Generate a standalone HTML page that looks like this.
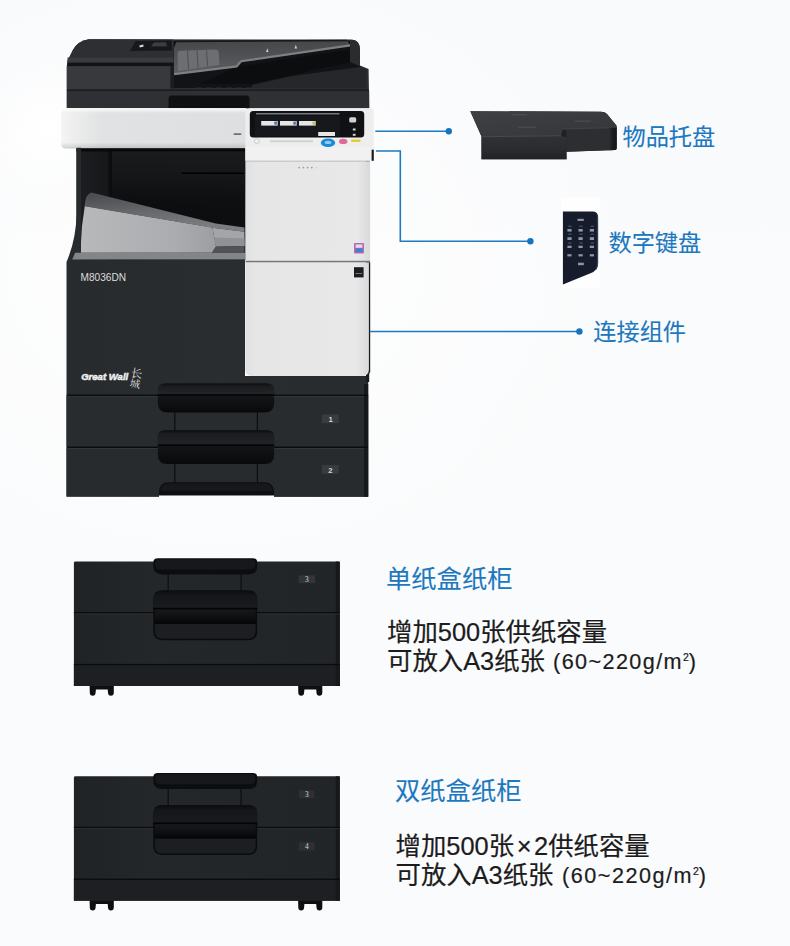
<!DOCTYPE html>
<html lang="zh-CN">
<head>
<meta charset="utf-8">
<title>M8036DN 选配件</title>
<style>
html,body{margin:0;padding:0;}
body{width:790px;height:946px;overflow:hidden;position:relative;background:#fafbfc;
  font-family:"Liberation Sans","Noto Sans CJK SC",sans-serif;}
#stage{position:absolute;left:0;top:0;width:790px;height:946px;overflow:hidden;
  background:
    radial-gradient(ellipse 60px 70px at 45px 128px,#ffffff 0%,rgba(255,255,255,0) 100%),
    radial-gradient(ellipse 420px 330px at 215px 270px,#fefefe 0%,rgba(254,254,254,0) 100%),
    linear-gradient(180deg,#f9fafc 0%,#fafbfc 50%,#fafbfd 100%);}
svg#art{position:absolute;left:0;top:0;}
.lbl{position:absolute;white-space:nowrap;color:#1c78bf;font-size:23.2px;line-height:30px;-webkit-text-stroke:0.1px #1c78bf;}
.ttl{position:absolute;white-space:nowrap;color:#1c78bf;font-size:25.3px;line-height:32px;-webkit-text-stroke:0.1px #1c78bf;}
.desc{position:absolute;white-space:nowrap;color:#1c1c1c;font-size:25.4px;line-height:29.6px;-webkit-text-stroke:0.2px #1c1c1c;}
.desc .sm{font-size:21.6px;letter-spacing:1.3px;margin-left:0.5px;position:relative;top:-1.5px;}
.desc .x{display:inline-block;width:20px;text-align:center;}
.desc .sm i{font-style:normal;font-size:10.5px;position:relative;top:-8px;letter-spacing:0;}
</style>
</head>
<body>
<div id="stage">
<svg id="art" width="790" height="946" viewBox="0 0 790 946">
<defs>
  <linearGradient id="gBody" x1="0" y1="0" x2="1" y2="0">
    <stop offset="0" stop-color="#282b2e"/><stop offset="0.5" stop-color="#2a2d30"/><stop offset="1" stop-color="#292c2f"/>
  </linearGradient>
  <linearGradient id="gBand" x1="0" y1="0" x2="1" y2="0">
    <stop offset="0" stop-color="#f4f4f4"/><stop offset="0.06" stop-color="#eeeeef"/><stop offset="0.22" stop-color="#e1e2e3"/><stop offset="1" stop-color="#dedfe1"/>
  </linearGradient>
  <linearGradient id="gBandV" x1="0" y1="0" x2="0" y2="1">
    <stop offset="0" stop-color="#ffffff" stop-opacity="0.9"/><stop offset="0.12" stop-color="#ffffff" stop-opacity="0"/>
    <stop offset="0.85" stop-color="#000000" stop-opacity="0"/><stop offset="1" stop-color="#000000" stop-opacity="0.14"/>
  </linearGradient>
  <linearGradient id="gPanel" x1="0" y1="0" x2="1" y2="0">
    <stop offset="0" stop-color="#dfe0e1"/><stop offset="0.08" stop-color="#e6e6e7"/><stop offset="0.9" stop-color="#e8e8e9"/><stop offset="1" stop-color="#d8d9da"/>
  </linearGradient>
  <linearGradient id="gLip" x1="0" y1="0" x2="0" y2="1">
    <stop offset="0" stop-color="#0c0d0f"/><stop offset="0.25" stop-color="#1b1c1f"/><stop offset="1" stop-color="#222427"/>
  </linearGradient>
  <linearGradient id="gRecess" x1="0" y1="0" x2="0" y2="1">
    <stop offset="0" stop-color="#1a1b1e"/><stop offset="0.6" stop-color="#111214"/><stop offset="1" stop-color="#08090a"/>
  </linearGradient>
  <linearGradient id="gTrayOut" x1="0" y1="0" x2="1" y2="0">
    <stop offset="0" stop-color="#b7b9bb"/><stop offset="0.7" stop-color="#aaacaf"/><stop offset="1" stop-color="#9c9ea1"/>
  </linearGradient>
  <linearGradient id="gTrayBand" x1="0" y1="0" x2="0.35" y2="1">
    <stop offset="0" stop-color="#47494c"/><stop offset="0.55" stop-color="#66686b"/><stop offset="1" stop-color="#7b7d80"/>
  </linearGradient>
  <linearGradient id="gCav" x1="0" y1="0" x2="1" y2="0">
    <stop offset="0" stop-color="#1d1e21"/><stop offset="0.18" stop-color="#17181a"/><stop offset="0.2" stop-color="#0b0c0e"/><stop offset="1" stop-color="#0d0e10"/>
  </linearGradient>
  <linearGradient id="gCavHi" x1="0" y1="0" x2="0" y2="1">
    <stop offset="0" stop-color="#1b1d20" stop-opacity="0.9"/><stop offset="0.45" stop-color="#17191b" stop-opacity="0.7"/><stop offset="1" stop-color="#101113" stop-opacity="0"/>
  </linearGradient>
  <linearGradient id="gFeed" x1="0" y1="0" x2="0" y2="1">
    <stop offset="0" stop-color="#45474a"/><stop offset="1" stop-color="#5b5d60"/>
  </linearGradient>
  <linearGradient id="gCab" x1="0" y1="0" x2="1" y2="0">
    <stop offset="0" stop-color="#202326"/><stop offset="0.3" stop-color="#24272a"/><stop offset="1" stop-color="#222528"/>
  </linearGradient>
  <linearGradient id="gLipC" x1="0" y1="0" x2="0" y2="1">
    <stop offset="0" stop-color="#0b0c0e"/><stop offset="0.3" stop-color="#15161a"/><stop offset="1" stop-color="#1a1b1e"/>
  </linearGradient>
  <linearGradient id="gMidC" x1="0" y1="0" x2="0" y2="1">
    <stop offset="0" stop-color="#17181b"/><stop offset="0.6" stop-color="#0e0f11"/><stop offset="1" stop-color="#050506"/>
  </linearGradient>
  <linearGradient id="gTrayFront" x1="0" y1="0" x2="0" y2="1">
    <stop offset="0" stop-color="#303235"/><stop offset="0.6" stop-color="#292b2e"/><stop offset="1" stop-color="#202225"/>
  </linearGradient>
  <linearGradient id="gTrayEnd" x1="0" y1="0" x2="1" y2="0">
    <stop offset="0" stop-color="#2c2e31"/><stop offset="0.5" stop-color="#1a1b1e"/><stop offset="1" stop-color="#151619"/>
  </linearGradient>
  <linearGradient id="gTrayTop" x1="0" y1="0" x2="1" y2="1">
    <stop offset="0" stop-color="#3e4044"/><stop offset="1" stop-color="#34363a"/>
  </linearGradient>
</defs>

<!-- ========== PRINTER ========== -->
<g id="printer">
  <!-- ADF silhouette -->
  <path d="M66.8 108 L66.8 66 L67.5 61 L72.9 50.1 Q77.5 41 89 39.3 L351 39.6 Q360 39.8 360 50 L360 65.5 L368.6 69 L369.2 108 Z" fill="#2b2d30"/>
  <!-- feed recess (dark) -->
  <path d="M173.5 41 L350 41 L350 62 L360 66 L360 88 L173.5 88 Z" fill="#121316"/>
  <!-- slope under feed tray -->
  <path d="M252 85 L292 76 L360 67 L366 69.5 L366 88 L252 88 Z" fill="#25272a"/>
  <path d="M236 67 L300 57 L350 50 L350 62 L292 75 L250 84 L200 84 Z" fill="#0c0d0f"/>
  <!-- feed tray -->
  <path d="M176.5 41.5 L347 40.6 L350.2 45.3 L241 61.2 L236.6 66.4 L174 74.2 L174 48 Z" fill="url(#gFeed)"/>
  <path d="M350.2 45.3 L241 61.2 L236.6 66.4 L174 74.2" fill="none" stroke="#7d7f83" stroke-width="2.2"/>
  <path d="M176.5 41.5 L347 40.6" stroke="#17181a" stroke-width="1.5"/>
  <!-- paper guide -->
  <path d="M177.6 53.6 Q177.6 51 180.6 50.8 L214.6 49.4 Q218.4 49.2 218.7 52.6 L219.6 65 L177.8 71.2 Z" fill="#6c6e71"/>
  <path d="M187.5 50.6 L188.6 69 M197 50.2 L198.1 67.6 M206.5 49.8 L207.6 66.4" stroke="#505255" stroke-width="1.1"/>
  <path d="M266 52 L267.3 48.2 L268.6 52 Z M294.5 48.6 L295.8 44.8 L297.1 48.6 Z" fill="#c9cacb"/>
  <!-- top cover left -->
  <path d="M67.3 62 L67.5 61 L72.9 50.1 Q77.5 41 89 39.3 L173.5 39.6 L173.5 62 Z" fill="#2d2f32"/>
  <rect x="67.5" y="57.5" width="106" height="5.2" fill="#393b3e"/>
  <rect x="67.5" y="62.7" width="106" height="3.4" fill="#121315"/>
  <!-- cover control widget -->
  <path d="M130 51 L135.5 41 L171.5 40.6 L172 50.5 Z" fill="#17181b"/>
  <path d="M151 46.5 L154 42.5 L166 42.3 L167 46.3 Z" fill="#3c3e41"/>
  <rect x="139.5" y="45" width="4" height="2" fill="#d9dadb" transform="rotate(-14 141.5 46)"/>
  <!-- lower left sections -->
  <rect x="66.8" y="66.2" width="103.7" height="23.4" fill="#37393c"/>
  <rect x="66.8" y="89.6" width="302.2" height="1.2" fill="#141517"/>
  <rect x="66.8" y="90.8" width="302.4" height="17.4" fill="#2e3033"/>
  <rect x="170.5" y="66.2" width="3" height="22" fill="#1b1c1f"/>
  <!-- rollers hint -->
  <path d="M196 88.2 h6 m4 0 h6 m4 0 h6 m4 0 h6 m4 0 h6 m4 0 h6" stroke="#2d2f32" stroke-width="1.6"/>
  <!-- right housing -->
  <path d="M350 41 L352 39.7 Q360 40 360 50 L360 66 L350 61.5 Z" fill="#2a2c2f"/>
  <!-- black rounded slot -->
  <path d="M168.5 108.2 L168.5 99 Q168.5 95.6 172 95.6 L246 95.6 Q249.5 95.6 249.5 99 L249.5 108.2 Z" fill="#0f1012"/>

  <!-- white band -->
  <path d="M61.2 108.3 L246 108.3 L246 148.4 L65.5 148.4 Q61.2 148.4 61.2 144 Z" fill="url(#gBand)"/>
  <path d="M61.2 108.3 L246 108.3 L246 148.4 L65.5 148.4 Q61.2 148.4 61.2 144 Z" fill="url(#gBandV)"/>
  <rect x="233.5" y="133.3" width="8" height="1.6" rx="0.8" fill="#6d6f72"/>

  <!-- cavity -->
  <rect x="76.4" y="148.4" width="169.2" height="111.6" fill="url(#gCav)"/>
  <rect x="76.4" y="148.4" width="169.2" height="3" fill="#08090a"/>
  <rect x="112" y="151.4" width="133.6" height="62" fill="url(#gCavHi)"/>
  <rect x="181.5" y="172.6" width="62.5" height="1.4" fill="#000"/>
  <!-- output tray -->
  <path d="M84.8 206 L212.4 227.5 L216 246.4 L212 252.8 L80.3 252.8 L82 226 Z" fill="url(#gTrayOut)"/>
  <path d="M91.6 192.4 L215.8 223.6 L244.5 227.6 L244.5 231.8 L212.4 227.7 L84.6 206.2 Q85.4 193.6 91.6 192.4 Z" fill="url(#gTrayBand)"/>
  <path d="M212.4 227.7 L244.5 231.8 L244.5 246 L216 246.6 Z" fill="#a3a5a8"/>
  <path d="M214.2 237.5 L244.5 238.5 L244.5 246 L216 246.6 Z" fill="#8f9194"/>
  <path d="M216 246.6 L244.5 246 L244.5 252.8 L212 252.8 Z" fill="#505255"/>

  <!-- lower body -->
  <path d="M76.6 147.8 L76.6 214 Q76 240 66.5 262 L66.5 496.6 L368.2 496.8 L368.2 376 L245 376 L245 260 L81 260 L81 147.8 Z" fill="url(#gBody)"/>
  <path d="M75.2 252.8 L245 252.8 L245 259.6 L72.2 259.6 Z" fill="#838588"/>
  <!-- right dark edge behind panels -->
  <rect x="366" y="150" width="3.2" height="232" fill="#1b1c1f"/>

  <!-- model text / logo -->
  <text x="80.5" y="281.3" font-family="Liberation Sans, sans-serif" font-size="10.2" fill="#dcddde" textLength="45.6" lengthAdjust="spacingAndGlyphs">M8036DN</text>
  <text x="81.2" y="379.6" font-family="Liberation Sans, sans-serif" font-size="9.6" font-weight="bold" font-style="italic" fill="#eeeff0" stroke="#eeeff0" stroke-width="0.5" textLength="47" lengthAdjust="spacingAndGlyphs">Great Wall</text>
  <text font-family="Noto Serif CJK SC, Noto Sans CJK SC, serif" fill="#dcddde" transform="rotate(9 135 378)"><tspan x="130" y="377.2" font-size="11.5">长</tspan><tspan x="130.8" y="387.6" font-size="10.5">城</tspan></text>

  <rect x="66.5" y="396" width="301.7" height="50.5" fill="#292c2f"/>
  <rect x="66.5" y="448" width="301.7" height="48.7" fill="#282b2e"/>
  <rect x="364" y="384" width="4.2" height="112.7" fill="#17181b"/>
  <!-- tray separators -->
  <rect x="66.8" y="394.6" width="301.4" height="1.5" fill="#0b0c0e"/>
  <rect x="66.8" y="396.1" width="297.2" height="0.9" fill="#35373a"/>
  <rect x="66.8" y="446.5" width="301.4" height="1.5" fill="#0b0c0e"/>
  <rect x="66.8" y="448" width="297.2" height="0.9" fill="#35373a"/>
  <!-- inner panels -->
  <rect x="174.2" y="410" width="1.2" height="24" fill="#0c0d0f"/>
  <rect x="256.8" y="410" width="1.2" height="24" fill="#0c0d0f"/>
  <rect x="174.2" y="460" width="1.2" height="25" fill="#0c0d0f"/>
  <rect x="256.8" y="460" width="1.2" height="25" fill="#0c0d0f"/>
  <!-- handle 1 -->
  <path d="M157.8 390.5 Q157.8 383.5 165 383.5 L267 383.5 Q274.2 383.5 274.2 390.5 L274.2 403 Q274.2 412.6 264.5 412.6 L167.5 412.6 Q157.8 412.6 157.8 403 Z" fill="url(#gRecess)"/>
  <path d="M157.8 390.5 Q157.8 383.5 165 383.5 L267 383.5 Q274.2 383.5 274.2 390.5 L274.2 394.4 L157.8 394.4 Z" fill="url(#gLip)"/>
  <rect x="157.8" y="394.2" width="116.4" height="1.6" fill="#050506"/>
  <!-- handle 2 -->
  <path d="M157.8 437.2 Q157.8 430.2 165 430.2 L267 430.2 Q274.2 430.2 274.2 437.2 L274.2 454.4 Q274.2 464 264.5 464 L167.5 464 Q157.8 464 157.8 454.4 Z" fill="url(#gRecess)"/>
  <path d="M157.8 437.2 Q157.8 430.2 165 430.2 L267 430.2 Q274.2 430.2 274.2 437.2 L274.2 444.6 L157.8 444.6 Z" fill="url(#gLip)"/>
  <rect x="157.8" y="444.4" width="116.4" height="1.6" fill="#050506"/>
  <!-- handle 3 -->
  <path d="M159 495.6 L159 492 Q159 482.3 169 482.3 L264 482.3 Q274 482.3 274 492 L274 495.8 Z" fill="#0e0f11"/>
  <path d="M159 495.4 L274 495.6 L274 497 L159 497 Z" fill="#fafbfc"/>
  <path d="M161 491 Q161 483.6 169 483.6 L264 483.6 Q272 483.6 272 491 Z" fill="#17181b"/>
  <!-- labels -->
  <rect x="321.8" y="414.4" width="17" height="8.8" fill="#393b3e"/>
  <text x="330.6" y="421.7" text-anchor="middle" font-family="Liberation Sans, sans-serif" font-size="7.8" font-weight="bold" fill="#d2d3d4">1</text>
  <rect x="321.8" y="465" width="17" height="8.8" fill="#393b3e"/>
  <text x="330.3" y="472.9" text-anchor="middle" font-family="Liberation Sans, sans-serif" font-size="7.8" font-weight="bold" fill="#d2d3d4">2</text>

  <!-- control panel -->
  <path d="M245.4 113 Q245.4 108.5 250 108.5 L373.6 108.5 L373.6 160.8 L245.4 160.8 Z" fill="#eeeeef"/>
  <rect x="245.4" y="147" width="128.2" height="13.8" fill="#f1f1f2"/>
  <rect x="371.6" y="149.7" width="2.2" height="11.1" fill="#1c1d20"/>
  <rect x="249.8" y="111" width="114.4" height="26.5" rx="3.5" fill="#101114"/>
  <rect x="256" y="113" width="83.5" height="1.5" fill="#77797c"/>
  <rect x="255" y="116" width="85" height="20" fill="#17181b"/>
  <rect x="261.2" y="121" width="16.5" height="4.6" fill="#e4e6e8"/>
  <rect x="280" y="121" width="16.7" height="4.6" fill="#e4e6e8"/>
  <rect x="299" y="121" width="16.7" height="4.6" fill="#e4e6e8"/>
  <rect x="312.5" y="121.6" width="2.6" height="3" fill="#cdbb44"/>
  <rect x="274.3" y="121.6" width="2.6" height="3" fill="#4f6f9f"/>
  <rect x="293.3" y="121.6" width="2.6" height="3" fill="#4f6f9f"/>
  <rect x="318.2" y="132" width="16.8" height="4" fill="#e4e6e8"/>
  <rect x="349.2" y="117.2" width="7" height="5.4" rx="1.5" fill="#cfd0d2"/>
  <rect x="352.8" y="128.5" width="2.8" height="2" fill="#cfd0d2"/>
  <rect x="352.8" y="133.8" width="2.8" height="2" fill="#cfd0d2"/>
  <circle cx="256.8" cy="141" r="2.6" fill="none" stroke="#c4c5c7" stroke-width="0.8"/>
  <rect x="270" y="140.3" width="43" height="1.9" fill="#cfd0d2"/>
  <ellipse cx="328" cy="142.8" rx="7.2" ry="4.3" fill="#1b8ad6"/>
  <ellipse cx="328" cy="142.4" rx="3.4" ry="1.6" fill="#8ecbf2"/>
  <ellipse cx="343.2" cy="141.4" rx="4.2" ry="2.6" fill="#e2689a"/>
  <rect x="351.2" y="139.5" width="9.2" height="2.4" fill="#e5c928"/>

  <!-- front panels -->
  <rect x="245.5" y="161.6" width="124.6" height="99.6" fill="url(#gPanel)"/>
  <rect x="245.5" y="260.8" width="124.6" height="1.8" fill="#737578"/>
  <path d="M366 262.6 L370.2 262.6 L370.2 372 L366 378 Z" fill="#1b1c1f"/>
  <path d="M245.3 262.6 L368.9 262.6 L368.9 369.5 Q368.9 376 362.4 376 L251.8 376 Q245.3 376 245.3 369.5 Z" fill="url(#gPanel)"/>
  <rect x="245.5" y="160.6" width="124.6" height="1.2" fill="#c2c3c5"/>
  <g fill="#9a9c9f"><circle cx="299.2" cy="167.6" r="0.9"/><circle cx="303.4" cy="167.6" r="0.9"/><circle cx="307.6" cy="167.6" r="0.9"/><circle cx="311.8" cy="167.6" r="0.9"/></g>
  <circle cx="316.6" cy="167.6" r="0.9" fill="#d0d1d3"/>
  <!-- stickers -->
  <rect x="354" y="243" width="10" height="10.4" rx="1" fill="#b06ab0"/>
  <rect x="355.6" y="244.4" width="6.8" height="3.4" fill="#e9d7ee"/>
  <rect x="355.6" y="248.4" width="6.8" height="3.6" fill="#3f7fd0"/>
  <rect x="354" y="267.2" width="9.6" height="10.2" fill="#1c1d1f"/>
  <rect x="355.5" y="273" width="6.6" height="0.8" fill="#8a8c8f"/>
</g>

<!-- ========== CONNECTORS ========== -->
<g id="connectors" fill="none" stroke="#1a7bc3" stroke-width="1.6">
  <path d="M375.3 131.2 L448.8 131.2"/>
  <path d="M375.9 151 L400.3 151 L400.3 241.2 L530.4 241.2"/>
  <path d="M369.9 331.5 L579.4 331.5"/>
</g>
<g fill="#1674bf">
  <circle cx="448.8" cy="131.2" r="3.2"/>
  <circle cx="530.4" cy="241.2" r="3.2"/>
  <circle cx="579.4" cy="331.5" r="3.2"/>
</g>

<!-- ========== ACCESSORY TRAY ========== -->
<g id="acc-tray">
  <path d="M470.3 111.2 L601 111.8 Q605 111.8 607 114 L616.6 125.5 L616.6 148 Q616.6 149.8 615 150 L566.5 151.8 L566.5 159.3 L481.5 159.3 L481.5 136.6 Z" fill="#25272a"/>
  <!-- top face -->
  <path d="M470.3 111.2 L601 111.8 Q605 111.8 607 114 L616.6 126.5 L616.6 127.6 L563 129 L561.3 135.6 L481.5 136.6 Z" fill="url(#gTrayTop)"/>
  <!-- front face left -->
  <path d="M481.5 136.6 L561.3 135.6 L566.5 137.5 L566.5 159.3 L481.5 159.3 Z" fill="url(#gTrayFront)"/>
  <path d="M481.5 136.7 L561.3 135.7" stroke="#4b4d50" stroke-width="0.9"/>
  <!-- notch inner wall -->
  <path d="M563 129 L566.5 130.2 L566.5 137.5 L561.3 135.6 Z" fill="#1f2124"/>
  <!-- right front face -->
  <path d="M566.5 130.2 L563 129 L616.6 127.6 L616.6 148 Q616.6 149.8 615 150 L566.5 151.8 Z" fill="#2c2e31"/>
  <path d="M563 129 L616.6 127.6" stroke="#47494c" stroke-width="0.8"/>
  <path d="M609 127.8 L616.6 127.6 L616.6 148 Q616.6 149.8 615 150 L609 150.3 Z" fill="url(#gTrayEnd)"/>
  <rect x="512" y="114.2" width="15" height="1" fill="#505256"/>
  <rect x="518" y="126.6" width="18" height="1" fill="#505256"/>
  <rect x="575" y="120.6" width="16" height="1" fill="#505256"/>
</g>

<!-- ========== KEYPAD ========== -->
<g id="acc-keypad">
  <rect x="560.8" y="197.5" width="39.6" height="90.5" fill="#ffffff" opacity="0.8"/>
  <path d="M562.9 211.4 L592.5 211.4 Q598.1 211.4 598.1 217 L598.1 263 Q598.1 270.5 590.5 273.2 L562.9 284.4 Z" fill="#161c2b"/>
  <path d="M596.9 216 L598.1 217 L598.1 263 Q598.1 268 595.5 270.6 Q596.9 268 596.9 263 Z" fill="#39414f"/>
  <g fill="#8e96a6">
    <rect x="577.5" y="218.8" width="6.3" height="2.1"/>
    <rect x="567.4" y="229" width="4.2" height="2.6"/><rect x="578.5" y="229" width="4.2" height="2.6"/><rect x="589.8" y="229" width="4.2" height="2.6"/><rect x="567.4" y="237.2" width="4.2" height="2.8"/><rect x="578.5" y="237.2" width="4.2" height="2.8"/><rect x="589.8" y="237.2" width="4.2" height="2.8"/><rect x="567.4" y="245.7" width="4.2" height="2.3"/><rect x="578.5" y="245.7" width="4.2" height="2.3"/><rect x="589.8" y="245.7" width="4.2" height="2.3"/><rect x="567.4" y="254.2" width="4.2" height="2.2"/><rect x="578.5" y="254.2" width="4.2" height="2.2"/><rect x="589.8" y="254.2" width="4.2" height="2.2"/>
    <rect x="578" y="262.7" width="5.8" height="2.5"/>
  </g>
  <g fill="#4e5667"><rect x="568.1999999999999" y="225.7" width="3.4" height="1.1"/><rect x="579.3" y="225.7" width="3.4" height="1.1"/><rect x="590.5999999999999" y="225.7" width="3.4" height="1.1"/><rect x="568.1999999999999" y="233.6" width="3.4" height="1.1"/><rect x="579.3" y="233.6" width="3.4" height="1.1"/><rect x="590.5999999999999" y="233.6" width="3.4" height="1.1"/><rect x="568.1999999999999" y="242.5" width="3.4" height="1.1"/><rect x="579.3" y="242.5" width="3.4" height="1.1"/><rect x="590.5999999999999" y="242.5" width="3.4" height="1.1"/></g>
</g>

<!-- ========== CABINETS ========== -->
<g id="cab1">
  <!-- feet -->
  <path d="M89.6 685 h24.2 v7.8 q0 3 -3 3 q-2.6 0 -2.8 -3 l-0.3 -3.4 h-11.8 l-0.3 3.4 q-0.2 3 -2.8 3 q-3 0 -3 -3 Z" fill="#0e0f11"/>
  <path d="M298.1 685 h24.2 v7.8 q0 3 -3 3 q-2.6 0 -2.8 -3 l-0.3 -3.4 h-11.8 l-0.3 3.4 q-0.2 3 -2.8 3 q-3 0 -3 -3 Z" fill="#0e0f11"/>
  <!-- body -->
  <path d="M73.9 563 Q73.9 561.6 75.3 561.6 L338.4 561.6 Q339.8 561.6 339.8 563 L339.8 686 L73.9 686 Z" fill="url(#gCab)"/>
  <rect x="73.9" y="664.6" width="265.9" height="21.4" fill="#1d1f22"/>
  <rect x="335.8" y="561.6" width="4" height="124.4" fill="#17181b"/>
  <rect x="73.9" y="612.1" width="265.9" height="1.4" fill="#0a0b0c"/>
  <rect x="73.9" y="613.5" width="265.9" height="0.9" fill="#2f3134"/>
  <rect x="73.9" y="663.9" width="265.9" height="1.3" fill="#0a0b0c"/>
  <!-- inner verticals -->
  <rect x="167.6" y="572" width="1.1" height="20" fill="#0b0c0d"/>
  <rect x="240.5" y="572" width="1.1" height="20" fill="#0b0c0d"/>
  <!-- top handle -->
  <path d="M153.3 562.5 Q153.3 558.2 158 558.2 L252.5 558.2 Q257.2 558.2 257.2 562.5 L257.2 566 Q257.2 574.4 248.5 574.4 L162 574.4 Q153.3 574.4 153.3 566 Z" fill="#0c0d0f"/>
  <path d="M155.2 563.2 Q155.2 559.6 159 559.6 L251.5 559.6 Q255.3 559.6 255.3 563.2 L255.3 564.5 Q255.3 569.6 249.5 569.6 L161 569.6 Q155.2 569.6 155.2 564.5 Z" fill="#17181b"/>
  <!-- recess -->
  <path d="M153.3 599 Q153.3 590.6 162 590.6 L248.5 590.6 Q257.2 590.6 257.2 599 L257.2 631 Q257.2 640.2 248 640.2 L162.5 640.2 Q153.3 640.2 153.3 631 Z" fill="#0a0b0c"/>
  <path d="M153.3 599 Q153.3 590.6 162 590.6 L248.5 590.6 Q257.2 590.6 257.2 599 L257.2 608 L153.3 608 Z" fill="url(#gLipC)"/>
  <rect x="153.3" y="607.8" width="103.9" height="1.7" fill="#040405"/>
  <rect x="154.8" y="609.5" width="100.9" height="14" fill="url(#gMidC)"/>
  <path d="M154.8 624 L255.7 624 L255.7 631 Q255.7 638.8 248 638.8 L162.5 638.8 Q154.8 638.8 154.8 631 Z" fill="#1c1e21"/>
</g>
<rect x="298.8" y="575.3" width="16.2" height="7.8" fill="#333538"/>
<text x="306.9" y="582" text-anchor="middle" font-family="Liberation Serif, serif" font-size="7.4" fill="#d8d9da">3</text>

<g id="cab2" transform="translate(0 214.7)">
  <!-- feet -->
  <path d="M89.6 685 h24.2 v7.8 q0 3 -3 3 q-2.6 0 -2.8 -3 l-0.3 -3.4 h-11.8 l-0.3 3.4 q-0.2 3 -2.8 3 q-3 0 -3 -3 Z" fill="#0e0f11"/>
  <path d="M298.1 685 h24.2 v7.8 q0 3 -3 3 q-2.6 0 -2.8 -3 l-0.3 -3.4 h-11.8 l-0.3 3.4 q-0.2 3 -2.8 3 q-3 0 -3 -3 Z" fill="#0e0f11"/>
  <!-- body -->
  <path d="M73.9 563 Q73.9 561.6 75.3 561.6 L338.4 561.6 Q339.8 561.6 339.8 563 L339.8 686 L73.9 686 Z" fill="url(#gCab)"/>
  <rect x="73.9" y="664.6" width="265.9" height="21.4" fill="#1d1f22"/>
  <rect x="335.8" y="561.6" width="4" height="124.4" fill="#17181b"/>
  <rect x="73.9" y="612.1" width="265.9" height="1.4" fill="#0a0b0c"/>
  <rect x="73.9" y="613.5" width="265.9" height="0.9" fill="#2f3134"/>
  <rect x="73.9" y="663.9" width="265.9" height="1.3" fill="#0a0b0c"/>
  <!-- inner verticals -->
  <rect x="167.6" y="572" width="1.1" height="20" fill="#0b0c0d"/>
  <rect x="240.5" y="572" width="1.1" height="20" fill="#0b0c0d"/>
  <!-- top handle -->
  <path d="M153.3 562.5 Q153.3 558.2 158 558.2 L252.5 558.2 Q257.2 558.2 257.2 562.5 L257.2 566 Q257.2 574.4 248.5 574.4 L162 574.4 Q153.3 574.4 153.3 566 Z" fill="#0c0d0f"/>
  <path d="M155.2 563.2 Q155.2 559.6 159 559.6 L251.5 559.6 Q255.3 559.6 255.3 563.2 L255.3 564.5 Q255.3 569.6 249.5 569.6 L161 569.6 Q155.2 569.6 155.2 564.5 Z" fill="#17181b"/>
  <!-- recess -->
  <path d="M153.3 599 Q153.3 590.6 162 590.6 L248.5 590.6 Q257.2 590.6 257.2 599 L257.2 631 Q257.2 640.2 248 640.2 L162.5 640.2 Q153.3 640.2 153.3 631 Z" fill="#0a0b0c"/>
  <path d="M153.3 599 Q153.3 590.6 162 590.6 L248.5 590.6 Q257.2 590.6 257.2 599 L257.2 608 L153.3 608 Z" fill="url(#gLipC)"/>
  <rect x="153.3" y="607.8" width="103.9" height="1.7" fill="#040405"/>
  <rect x="154.8" y="609.5" width="100.9" height="14" fill="url(#gMidC)"/>
  <path d="M154.8 624 L255.7 624 L255.7 631 Q255.7 638.8 248 638.8 L162.5 638.8 Q154.8 638.8 154.8 631 Z" fill="#1c1e21"/>
</g>
<rect x="299" y="790.3" width="15.4" height="8" fill="#2e3033"/>
<text x="306.8" y="797" text-anchor="middle" font-family="Liberation Serif, serif" font-size="7.4" fill="#d8d9da">3</text>
<rect x="299" y="842.3" width="15.4" height="8.2" fill="#2e3033"/>
<text x="306.8" y="849" text-anchor="middle" font-family="Liberation Serif, serif" font-size="7.4" fill="#d8d9da">4</text>
</svg>

<div class="lbl" style="left:622.5px;top:121.5px;">物品托盘</div>
<div class="lbl" style="left:608.5px;top:227.5px;">数字键盘</div>
<div class="lbl" style="left:593.3px;top:316.5px;">连接组件</div>

<div class="ttl" style="left:386px;top:562.5px;">单纸盒纸柜</div>
<div class="desc" style="left:387px;top:617.5px;">增加500张供纸容量<br>可放入A3纸张 <span class="sm" style="margin-left:1px;letter-spacing:1.4px">(60~220g/m<i>2</i>)</span></div>

<div class="ttl" style="left:395px;top:774.5px;">双纸盒纸柜</div>
<div class="desc" style="left:395.5px;top:831.5px;">增加500张<span class="x">×</span>2供纸容量<br>可放入A3纸张 <span class="sm" style="margin-left:1.5px;letter-spacing:1.5px">(60~220g/m<i>2</i>)</span></div>
</div>
</body>
</html>
